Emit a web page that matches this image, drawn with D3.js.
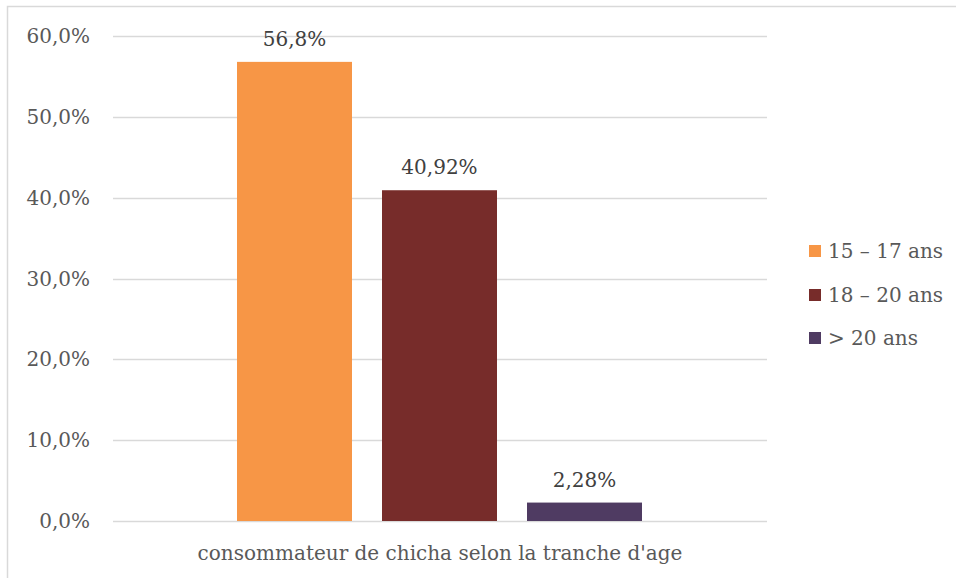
<!DOCTYPE html>
<html>
<head>
<meta charset="utf-8">
<script src="https://cdn.jsdelivr.net/npm/d3@7"></script>
<style>
  html, body { margin: 0; padding: 0; background: #fff; }
  svg { display: block; }
</style>
</head>
<body>
<div id="chart"></div>
<script>
// Consumers of chicha by age bracket (percent)
const categories = ["15 – 17 ans", "18 – 20 ans", "> 20 ans"];
const values = [56.8, 40.92, 2.28];
const valueLabels = ["56,8%", "40,92%", "2,28%"];
const colors = ["#F79646", "#772C2A", "#4F3B62"];
const yTicks = [0, 10, 20, 30, 40, 50, 60];
const axisTitle = "consommateur de chicha selon la tranche d'age";

const W = 956, H = 578;
const FONT = "'DejaVu Serif', 'Liberation Serif', serif";
const TEXT = '#595959';
const GRID = '#D9D9D9';

const svg = d3.select('#chart').append('svg')
  .attr('width', W).attr('height', H);

// outer chart frame (runs off the right/bottom edge)
svg.append('rect')
  .attr('x', 7.5).attr('y', 6.5)
  .attr('width', W).attr('height', H)
  .attr('fill', 'none')
  .attr('stroke', GRID)
  .attr('stroke-width', 1.5);

const plot = { left: 113, right: 767, top: 36, bottom: 521 };

const y = d3.scaleLinear().domain([0, 60]).range([plot.bottom, plot.top]);

// group band holds the three bars; bars are 115px wide with 30px gaps
const x = d3.scaleBand()
  .domain(categories)
  .range([237, 642])
  .paddingInner(30 / 145)
  .paddingOuter(0);

// gridlines
svg.selectAll('.grid')
  .data(yTicks)
  .enter().append('line')
  .attr('x1', plot.left).attr('x2', plot.right)
  .attr('y1', (d) => Math.round(y(d)) + 0.5)
  .attr('y2', (d) => Math.round(y(d)) + 0.5)
  .attr('stroke', GRID)
  .attr('stroke-width', 1.5);

// y tick labels
svg.selectAll('.y-tick')
  .data(yTicks)
  .enter().append('text')
  .attr('x', 90)
  .attr('y', (d) => y(d))
  .attr('dy', '0.35em')
  .attr('text-anchor', 'end')
  .attr('font-family', FONT)
  .attr('font-size', 20)
  .attr('fill', TEXT)
  .text((d) => `${d.toFixed(1).replace('.', ',')}%`);

// bars
svg.selectAll('.bar')
  .data(values)
  .enter().append('rect')
  .attr('x', (d, i) => x(categories[i]))
  .attr('y', (d) => y(d))
  .attr('width', x.bandwidth())
  .attr('height', (d) => y(0) - y(d))
  .attr('fill', (d, i) => colors[i]);

// value labels above bars
svg.selectAll('.val')
  .data(values)
  .enter().append('text')
  .attr('x', (d, i) => x(categories[i]) + x.bandwidth() / 2)
  .attr('y', (d) => y(d) - 16)
  .attr('text-anchor', 'middle')
  .attr('font-family', FONT)
  .attr('font-size', 20)
  .attr('fill', '#404040')
  .text((d, i) => valueLabels[i]);

// category axis title
svg.append('text')
  .attr('x', 440)
  .attr('y', 560)
  .attr('text-anchor', 'middle')
  .attr('font-family', FONT)
  .attr('font-size', 20)
  .attr('fill', TEXT)
  .text(axisTitle);

// legend
const legend = svg.append('g').attr('transform', 'translate(809,0)');
const legendY = [251, 295, 338];
categories.forEach((c, i) => {
  legend.append('rect')
    .attr('x', 0).attr('y', legendY[i] - 6)
    .attr('width', 12).attr('height', 12)
    .attr('fill', colors[i]);
  legend.append('text')
    .attr('x', 19).attr('y', legendY[i])
    .attr('dy', '0.35em')
    .attr('font-family', FONT)
    .attr('font-size', 20)
    .attr('fill', TEXT)
    .text(c);
});
</script>
</body>
</html>
